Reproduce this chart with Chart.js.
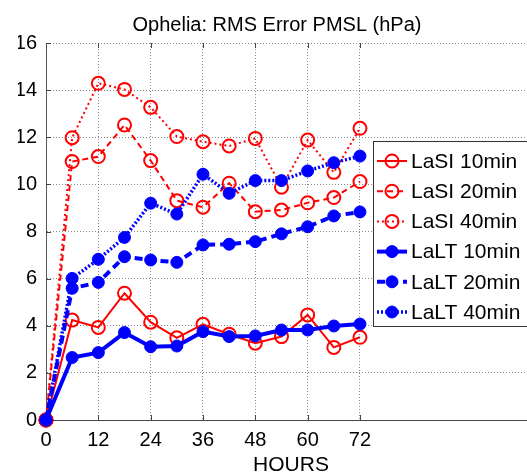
<!DOCTYPE html>
<html>
<head>
<meta charset="utf-8">
<script src="https://cdn.jsdelivr.net/npm/chart.js@4/dist/chart.umd.min.js"></script>
<style>
  html, body { margin: 0; padding: 0; background: #fff; overflow: hidden; }
</style>
</head>
<body>
<canvas id="c" width="527" height="476"></canvas>
<script>
const titleText = 'Ophelia: RMS Error PMSL (hPa)';
const xTitle = 'HOURS';
const hours = [0, 6, 12, 18, 24, 30, 36, 42, 48, 54, 60, 66, 72];
const xTicks = [0, 12, 24, 36, 48, 60, 72];
const yTicks = [0, 2, 4, 6, 8, 10, 12, 14, 16];
const seriesNames = ['LaSI 10min', 'LaSI 20min', 'LaSI 40min', 'LaLT 10min', 'LaLT 20min', 'LaLT 40min'];
const lasi10 = [0, 4.24, 3.93, 5.38, 4.15, 3.49, 4.06, 3.64, 3.26, 3.54, 4.46, 3.08, 3.51];
const lasi20 = [0, 10.97, 11.18, 12.52, 11.01, 9.31, 9.03, 10.05, 8.84, 8.91, 9.22, 9.44, 10.12];
const lasi40 = [0, 11.98, 14.29, 14.03, 13.27, 12.03, 11.81, 11.63, 11.95, 9.88, 11.88, 10.51, 12.38];
const lalt10 = [0, 2.65, 2.86, 3.71, 3.11, 3.14, 3.75, 3.54, 3.57, 3.82, 3.82, 3.99, 4.07];
const lalt20 = [0, 5.59, 5.84, 6.93, 6.79, 6.69, 7.43, 7.46, 7.57, 7.90, 8.20, 8.66, 8.83];
const lalt40 = [0, 6.01, 6.82, 7.75, 9.20, 8.74, 10.43, 9.62, 10.16, 10.16, 10.57, 10.92, 11.20];

const RED = '#ff0000', BLUE = '#0000ff';
const FONT = '"Liberation Sans", Arial, Helvetica, sans-serif';

function pts(arr) { return hours.map((h, i) => ({ x: h, y: arr[i] })); }

const styles = [
  { data: lasi10, color: RED, width: 2, dash: [], open: true, order: 2 },
  { data: lasi20, color: RED, width: 2, dash: [6, 4], open: true, order: 2 },
  { data: lasi40, color: RED, width: 2, dash: [2, 3], open: true, order: 2 },
  { data: lalt10, color: BLUE, width: 4, dash: [], open: false, order: 1 },
  { data: lalt20, color: BLUE, width: 4, dash: [8, 5], open: false, order: 1 },
  { data: lalt40, color: BLUE, width: 3.5, dash: [2, 2], open: false, order: 1 }
];

const datasets = styles.map((s, i) => ({
  label: seriesNames[i],
  data: pts(s.data),
  borderColor: s.color,
  borderWidth: s.width,
  borderDash: s.dash,
  backgroundColor: s.open ? 'rgba(0,0,0,0)' : s.color,
  pointRadius: s.open ? 6.5 : 6,
  pointBorderWidth: s.open ? 2 : 1,
  pointBorderColor: s.color,
  pointBackgroundColor: s.open ? 'rgba(0,0,0,0)' : s.color,
  tension: 0,
  fill: false,
  clip: false,
  order: s.order
}));

// Title and x-axis label drawn as canvas text at the reference positions
const labelsPlugin = {
  id: 'labels',
  afterDraw(chart) {
    const ctx = chart.ctx;
    ctx.save();
    ctx.fillStyle = '#000';
    ctx.textAlign = 'center';
    ctx.textBaseline = 'middle';
    ctx.font = '20px ' + FONT;
    ctx.fillText(titleText, 277, 25);
    ctx.font = '21px ' + FONT;
    ctx.fillText(xTitle, 291, 465);
    ctx.restore();
  }
};

const legendPlugin = {
  id: 'boxLegend',
  afterDraw(chart) {
    const ctx = chart.ctx;
    const x0 = 373, y0 = 141, h = 185, w = 400;
    ctx.save();
    ctx.fillStyle = '#fff';
    ctx.fillRect(x0, y0, w, h);
    ctx.strokeStyle = '#333';
    ctx.lineWidth = 1;
    ctx.strokeRect(x0 + 0.5, y0 + 0.5, w, h);
    chart.data.datasets.forEach((ds, i) => {
      const cy = 161 + i * 30.2;
      ctx.strokeStyle = ds.borderColor;
      ctx.lineWidth = ds.borderWidth;
      ctx.setLineDash(ds.borderDash);
      ctx.beginPath();
      ctx.moveTo(377, cy);
      ctx.lineTo(407, cy);
      ctx.stroke();
      ctx.setLineDash([]);
      ctx.beginPath();
      ctx.arc(392, cy, ds.pointRadius, 0, Math.PI * 2);
      if (ds.pointBackgroundColor !== 'rgba(0,0,0,0)') {
        ctx.fillStyle = ds.pointBackgroundColor;
        ctx.fill();
      }
      ctx.lineWidth = ds.pointBorderWidth;
      ctx.strokeStyle = ds.pointBorderColor;
      ctx.stroke();
      ctx.fillStyle = '#000';
      ctx.font = '21px ' + FONT;
      ctx.textBaseline = 'middle';
      ctx.textAlign = 'left';
      ctx.fillText(ds.label, 411, cy + 1);
    });
    ctx.restore();
  }
};

const tickMarks = {
  id: 'insideTicks',
  beforeDatasetsDraw(chart) {
    const { ctx, chartArea, scales } = chart;
    ctx.save();
    ctx.strokeStyle = '#444';
    ctx.lineWidth = 1;
    ctx.beginPath();
    xTicks.forEach(t => {
      const x = Math.round(scales.x.getPixelForValue(t)) + 0.5;
      ctx.moveTo(x, chartArea.top);
      ctx.lineTo(x, chartArea.top + 5);
      ctx.moveTo(x, chartArea.bottom);
      ctx.lineTo(x, chartArea.bottom - 5);
    });
    yTicks.forEach(t => {
      const y = Math.round(scales.y.getPixelForValue(t)) + 0.5;
      ctx.moveTo(chartArea.left, y);
      ctx.lineTo(chartArea.left + 5, y);
    });
    ctx.stroke();
    ctx.restore();
  }
};

new Chart(document.getElementById('c'), {
  type: 'line',
  data: { datasets },
  options: {
    responsive: false,
    animation: false,
    devicePixelRatio: 1,
    layout: { autoPadding: false, padding: { left: 18, right: 0, top: 43, bottom: 0 } },
    plugins: {
      legend: { display: false },
      tooltip: { enabled: false },
      title: { display: false }
    },
    scales: {
      x: {
        type: 'linear',
        min: 0,
        max: 110.3,
        afterBuildTicks(scale) { scale.ticks = xTicks.map(v => ({ value: v })); },
        afterFit(scale) { scale.height = 56; scale.paddingRight = 0; scale.paddingLeft = 0; },
        ticks: {
          color: '#000',
          font: { family: FONT, size: 20 },
          padding: 8,
          maxRotation: 0,
          autoSkip: false
        },
        grid: { color: '#888', lineWidth: 1, drawTicks: false },
        border: { display: true, color: '#444', width: 1, dash: [1, 2] },
        title: { display: false }
      },
      y: {
        type: 'linear',
        min: 0,
        max: 16,
        afterBuildTicks(scale) { scale.ticks = yTicks.map(v => ({ value: v })); },
        afterFit(scale) { scale.width = 28; },
        ticks: {
          color: '#000',
          font: { family: FONT, size: 20 },
          padding: 9
        },
        grid: { color: '#888', lineWidth: 1, drawTicks: false },
        border: { display: true, color: '#555', width: 1, dash: [1, 2] }
      }
    }
  },
  plugins: [tickMarks, legendPlugin, labelsPlugin]
});
</script>
</body>
</html>
